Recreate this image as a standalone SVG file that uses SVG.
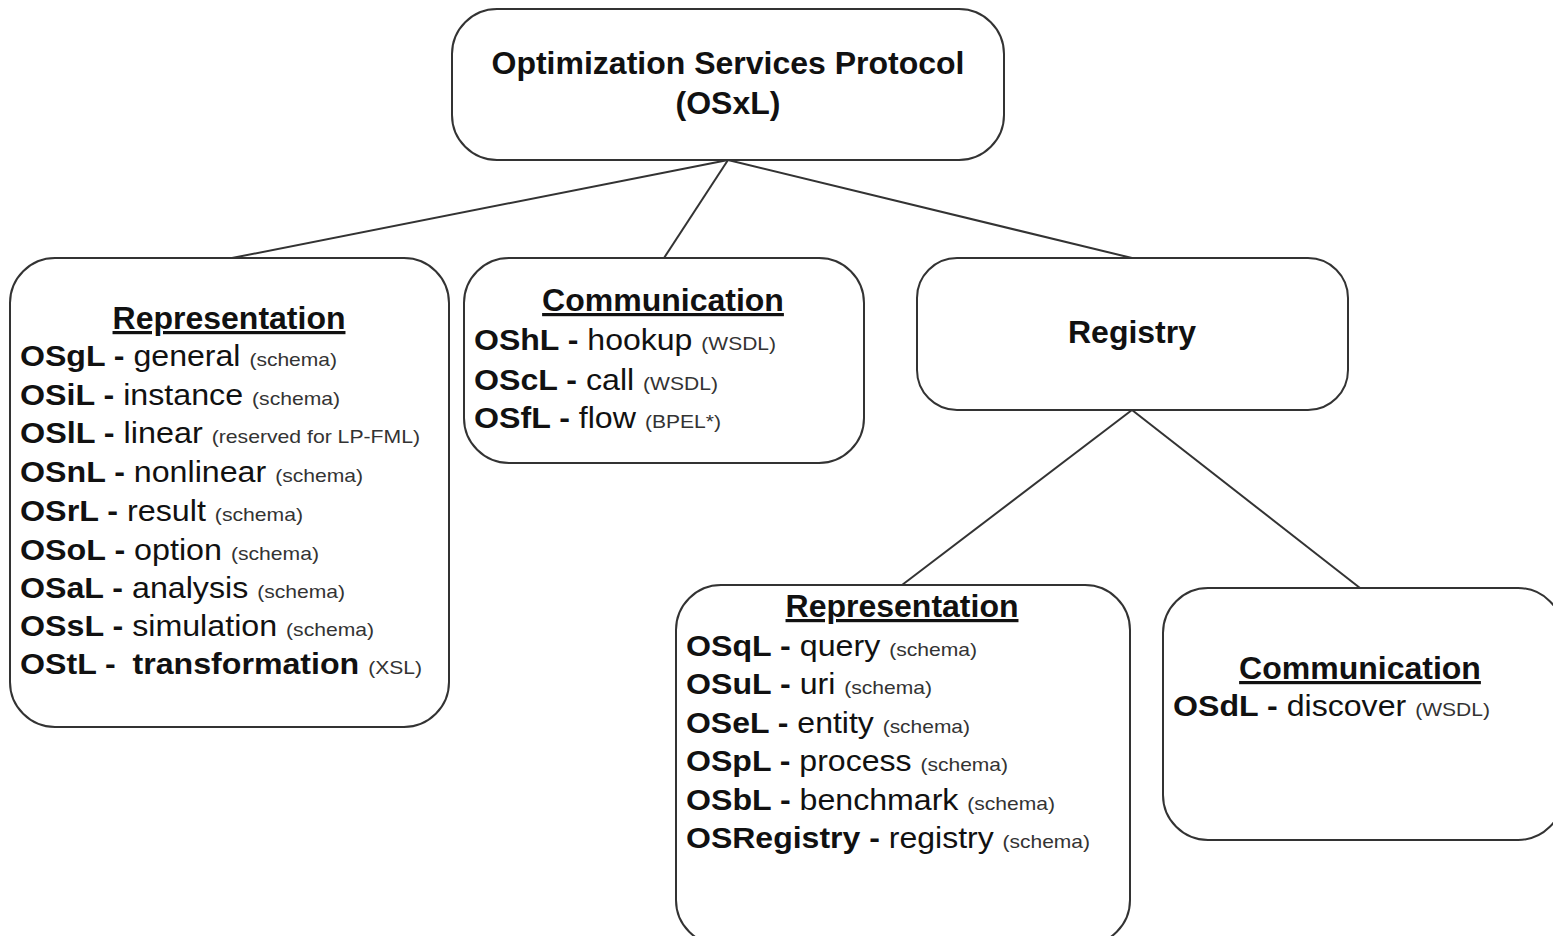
<svg xmlns="http://www.w3.org/2000/svg" width="1553" height="936" viewBox="0 0 1553 936">
<style>
.box{fill:#fff;stroke:#333;stroke-width:2}
.con{stroke:#333;stroke-width:2;fill:none}
text{font-family:"Liberation Sans",Arial,sans-serif;fill:#111}
.title{font-size:32px;font-weight:bold}
.head{font-size:32px;font-weight:bold;text-decoration:underline}
.ln{font-size:29px}
.b{font-weight:bold}
.s{font-size:19px;fill:#333}
</style>
<rect width="1553" height="936" fill="#fff"/>
<g id="connectors">
<line class="con" x1="728" y1="160" x2="232" y2="258"/>
<line class="con" x1="728" y1="160" x2="664" y2="258"/>
<line class="con" x1="728" y1="160" x2="1132" y2="258"/>
<line class="con" x1="1132" y1="410" x2="902" y2="585"/>
<line class="con" x1="1132" y1="410" x2="1360" y2="588"/>
</g>
<g id="osxl">
<rect class="box" x="452" y="9" width="552" height="151" rx="45"/>
<text class="title" x="728" y="74" text-anchor="middle">Optimization Services Protocol</text>
<text class="title" x="728" y="114" text-anchor="middle">(OSxL)</text>
</g>
<g id="representation">
<rect class="box" x="10" y="258" width="439" height="469" rx="45"/>
<text class="head" x="229" y="329" text-anchor="middle">Representation</text>
<text class="ln" x="20" y="366" textLength="317" lengthAdjust="spacingAndGlyphs"><tspan class="b">OSgL -</tspan> general <tspan class="s">(schema)</tspan></text>
<text class="ln" x="20" y="405" textLength="320" lengthAdjust="spacingAndGlyphs"><tspan class="b">OSiL -</tspan> instance <tspan class="s">(schema)</tspan></text>
<text class="ln" x="20" y="443" textLength="400" lengthAdjust="spacingAndGlyphs"><tspan class="b">OSlL -</tspan> linear <tspan class="s">(reserved for LP-FML)</tspan></text>
<text class="ln" x="20" y="482" textLength="343" lengthAdjust="spacingAndGlyphs"><tspan class="b">OSnL -</tspan> nonlinear <tspan class="s">(schema)</tspan></text>
<text class="ln" x="20" y="521" textLength="283" lengthAdjust="spacingAndGlyphs"><tspan class="b">OSrL -</tspan> result <tspan class="s">(schema)</tspan></text>
<text class="ln" x="20" y="560" textLength="299" lengthAdjust="spacingAndGlyphs"><tspan class="b">OSoL -</tspan> option <tspan class="s">(schema)</tspan></text>
<text class="ln" x="20" y="598" textLength="325" lengthAdjust="spacingAndGlyphs"><tspan class="b">OSaL -</tspan> analysis <tspan class="s">(schema)</tspan></text>
<text class="ln" x="20" y="636" textLength="354" lengthAdjust="spacingAndGlyphs"><tspan class="b">OSsL -</tspan> simulation <tspan class="s">(schema)</tspan></text>
<text class="ln" x="20" y="674" textLength="402" lengthAdjust="spacingAndGlyphs"><tspan class="b">OStL -</tspan> <tspan class="b" dx="7">transformation</tspan> <tspan class="s">(XSL)</tspan></text>
</g>
<g id="communication">
<rect class="box" x="464" y="258" width="400" height="205" rx="45"/>
<text class="head" x="663" y="311" text-anchor="middle">Communication</text>
<text class="ln" x="474" y="350" textLength="302" lengthAdjust="spacingAndGlyphs"><tspan class="b">OShL -</tspan> hookup <tspan class="s">(WSDL)</tspan></text>
<text class="ln" x="474" y="390" textLength="244" lengthAdjust="spacingAndGlyphs"><tspan class="b">OScL -</tspan> call <tspan class="s">(WSDL)</tspan></text>
<text class="ln" x="474" y="428" textLength="247" lengthAdjust="spacingAndGlyphs"><tspan class="b">OSfL -</tspan> flow <tspan class="s">(BPEL*)</tspan></text>
</g>
<g id="registry">
<rect class="box" x="917" y="258" width="431" height="152" rx="40"/>
<text class="title" x="1132" y="343" text-anchor="middle">Registry</text>
</g>
<g id="reg-representation">
<rect class="box" x="676" y="585" width="454" height="360" rx="45"/>
<text class="head" x="902" y="617" text-anchor="middle">Representation</text>
<text class="ln" x="686" y="656" textLength="291" lengthAdjust="spacingAndGlyphs"><tspan class="b">OSqL -</tspan> query <tspan class="s">(schema)</tspan></text>
<text class="ln" x="686" y="694" textLength="246" lengthAdjust="spacingAndGlyphs"><tspan class="b">OSuL -</tspan> uri <tspan class="s">(schema)</tspan></text>
<text class="ln" x="686" y="733" textLength="284" lengthAdjust="spacingAndGlyphs"><tspan class="b">OSeL -</tspan> entity <tspan class="s">(schema)</tspan></text>
<text class="ln" x="686" y="771" textLength="322" lengthAdjust="spacingAndGlyphs"><tspan class="b">OSpL -</tspan> process <tspan class="s">(schema)</tspan></text>
<text class="ln" x="686" y="810" textLength="369" lengthAdjust="spacingAndGlyphs"><tspan class="b">OSbL -</tspan> benchmark <tspan class="s">(schema)</tspan></text>
<text class="ln" x="686" y="848" textLength="404" lengthAdjust="spacingAndGlyphs"><tspan class="b">OSRegistry -</tspan> registry <tspan class="s">(schema)</tspan></text>
</g>
<g id="reg-communication">
<rect class="box" x="1163" y="588" width="400" height="252" rx="45"/>
<text class="head" x="1360" y="679" text-anchor="middle">Communication</text>
<text class="ln" x="1173" y="716" textLength="317" lengthAdjust="spacingAndGlyphs"><tspan class="b">OSdL -</tspan> discover <tspan class="s">(WSDL)</tspan></text>
</g>
</svg>
